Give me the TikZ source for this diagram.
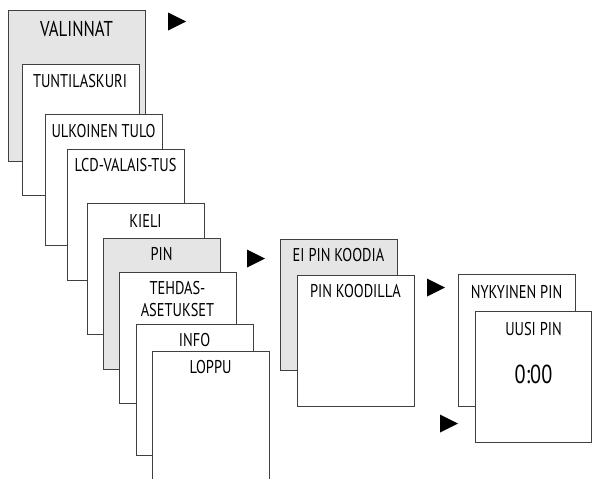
\documentclass[tikz,border=0pt]{standalone}
\usepackage{fontspec}
\setmainfont{PT Sans}[FakeStretch=0.78]
\tikzset{
	page/.style={draw=black!75,line width=0.8pt,fill=white},
	grise/.style={page,fill=black!10},
	titre/.style={anchor=base,inner sep=0pt,font=\fontsize{18.5}{22}\selectfont},
	fleche/.style={fill=black},
}
\begin{document}
\begin{tikzpicture}[x=1pt,y=-1pt]
	%Cadre
	\useasboundingbox (0,0) rectangle (592,479) ;
	\clip (0,0) rectangle (592,479) ;
	%Menu
	\filldraw [grise]	(8,10)		rectangle ++ (137,151)	;
	\filldraw [page]	(22,64)		rectangle ++ (117,131)	;
	\filldraw [page]	(45,114)	rectangle ++ (117,131)	;
	\filldraw [page]	(67,149)	rectangle ++ (117,131)	;
	\filldraw [page]	(87,203)	rectangle ++ (117,131)	;
	\filldraw [grise]	(103,238)	rectangle ++ (117,131)	;
	\filldraw [page]	(119,272)	rectangle ++ (117,131)	;
	\filldraw [page]	(136,324)	rectangle ++ (117,131)	;
	\filldraw [page]	(152,351)	rectangle ++ (117,140)	;
	%PIN
	\filldraw [grise]	(280,239)	rectangle ++ (117,131)	;
	\filldraw [page]	(297,275)	rectangle ++ (117,131)	;
	\filldraw [page]	(458,274)	rectangle ++ (117,132)	;
	\filldraw [page]	(475,311)	rectangle (591.6,442)	;
	%Textes
	\path	(76.5,36)	node [titre,font=\fontsize{21.5}{22}\selectfont]	(valinnat)	{VALINNAT}		;
	\path	(80,87)		node [titre]	(tunti)		{TUNTILASKURI}	;
	\path	(103.5,137)	node [titre]	(ulkoinen)	{ULKOINEN TULO}	;
	\path	(125.5,171)	node [titre]	(lcd)		{LCD-VALAIS-TUS}	;
	\path	(145.5,227)	node [titre]	(kieli)		{KIELI}			;
	\path	(161.5,260)	node [titre]	(pin)		{PIN}			;
	\path	(177.5,294)	node [titre]	(tehdas)	{TEHDAS-}		;
	\path	(177.5,316)	node [titre]	(asetukset)	{ASETUKSET}		;
	\path	(194.5,346)	node [titre]	(info)		{INFO}			;
	\path	(210.5,373)	node [titre]	(loppu)		{LOPPU}			;
	\path	(338.5,261)	node [titre]	(eipin)		{EI PIN KOODIA}	;
	\path	(355.5,297)	node [titre]	(koodilla)	{PIN KOODILLA}	;
	\path	(516.5,298)	node [titre]	(nykyinen)	{NYKYINEN PIN}	;
	\path	(533.5,335)	node [titre]	(uusi)		{UUSI PIN}		;
	\path	(533.5,383)	node [titre,font=\fontsize{26}{26}\selectfont]	(nollat)	{0:00}	;
	%Fleches
	\fill [fleche]	(168,12.5)	-- ++ (18,9) -- ++ (-18,9) -- cycle ;
	\fill [fleche]	(247,249.5)	-- ++ (18,9) -- ++ (-18,9) -- cycle ;
	\fill [fleche]	(427,278.5)	-- ++ (18,9) -- ++ (-18,9) -- cycle ;
	\fill [fleche]	(440,414.5)	-- ++ (18,9) -- ++ (-18,9) -- cycle ;
\end{tikzpicture}
\end{document}
